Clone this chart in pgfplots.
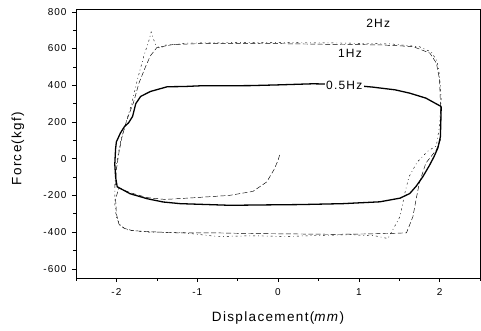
\documentclass[border=0pt]{standalone}
\usepackage{pgfplots}
\pgfplotsset{compat=1.18}
\usepackage{fontspec}
\setmainfont{Liberation Sans}[LetterSpace=10]
\begin{document}
\begin{tikzpicture}
\useasboundingbox (0,0) rectangle (481bp,331bp);
\begin{axis}[
  at={(76bp,53bp)}, anchor=south west,
  scale only axis, width=404bp, height=268bp,
  xmin=-2.5, xmax=2.5, ymin=-650, ymax=810,
  xtick={-2,-1,0,1,2},
  minor xtick={-2.5,-1.5,-0.5,0.5,1.5,2.5},
  ytick={-600,-400,-200,0,200,400,600,800},
  minor ytick={-500,-300,-100,100,300,500,700},
  tick align=outside, xtick pos=bottom, ytick pos=left,
  major tick length=4bp, minor tick length=2.5bp,
  axis line style={line width=1pt},
  every tick/.style={black, line width=0.6pt},
  /pgf/number format/assume math mode=true,
  ticklabel style={font=\fontsize{10bp}{12bp}\selectfont},
  xticklabel style={yshift=-3bp},
  yticklabel style={xshift=-2bp},
  xlabel={Displacement(\textit{mm})},
  ylabel={Force(kgf)},
  label style={font=\fontsize{13.5bp}{16bp}\selectfont},
  xlabel style={at={(axis description cs:0.5,-0.149)}, anchor=center},
  ylabel style={at={(axis description cs:-0.1436,0.483)}, anchor=center, rotate=0},
  clip=false,
]
% 2Hz
\addplot[black, line width=0.45pt, dash pattern=on 2pt off 3pt on 0.8pt off 3pt] coordinates {
(-2.02,-150) (-2.00,-30) (-1.95,90) (-1.88,200) (-1.81,300) (-1.74,430) (-1.66,560)
(-1.60,640) (-1.57,690) (-1.52,625) (-1.46,600) (-1.40,618) (-1.10,630) (-0.50,632)
(0.20,632) (0.80,630) (1.40,625) (1.75,610) (1.90,580) (1.97,530) (2.00,450)
(2.02,330) (2.00,180) (1.96,70) (1.85,40) (1.72,-20) (1.62,-100) (1.57,-187)
(1.51,-315) (1.43,-380) (1.36,-435) (1.20,-420) (0.90,-414) (0.50,-418) (0.10,-424)
(-0.30,-420) (-0.75,-424) (-1.20,-402) (-1.60,-400) (-1.85,-390) (-1.95,-368)
(-2.00,-320) (-2.02,-250) (-2.02,-150)
};
% 1Hz
\addplot[black, line width=0.45pt, dash pattern=on 5pt off 2.5pt] coordinates {
(0.02,20) (0.00,-10) (-0.05,-60) (-0.14,-127) (-0.31,-178) (-0.60,-200) (-1.05,-213)
(-1.40,-222) (-1.62,-212) (-1.83,-185) (-1.97,-160) (-2.01,-220) (-2.00,-300)
(-1.97,-355) (-1.90,-380) (-1.80,-392) (-1.58,-398) (-1.25,-404) (-0.80,-404)
(-0.30,-408) (0.20,-410) (0.70,-412) (1.10,-410) (1.40,-407) (1.59,-404) (1.63,-360)
(1.67,-315) (1.71,-220) (1.75,-131) (1.83,-24) (1.96,48) (2.01,102) (2.015,200)
(2.01,304) (2.00,430) (1.96,521) (1.88,575) (1.67,611) (1.26,620) (0.80,622)
(0.30,625) (-0.30,628) (-0.90,628) (-1.30,622) (-1.50,605) (-1.58,560) (-1.64,500)
(-1.72,413) (-1.79,304) (-1.87,212) (-1.93,120) (-1.97,30) (-2.00,-60) (-2.01,-150)
};
% 0.5Hz
\addplot[black, line width=1.3pt] coordinates {
(2.02,284) (2.015,200) (2.01,120) (1.98,60) (1.93,10) (1.87,-40) (1.79,-100)
(1.71,-150) (1.63,-190) (1.51,-215) (1.26,-235) (0.80,-245) (0.27,-250) (-0.20,-252)
(-0.59,-254) (-1.00,-248) (-1.21,-245) (-1.42,-236) (-1.62,-218) (-1.83,-191)
(-1.99,-153) (-2.01,-100) (-2.02,-30) (-2.01,54) (-2.00,92) (-1.95,140) (-1.90,175)
(-1.85,195) (-1.80,230) (-1.76,300) (-1.70,339) (-1.58,366) (-1.37,392) (-1.17,393)
(-0.96,397) (-0.35,398) (0.00,402) (0.43,408) (0.80,405) (1.17,390) (1.45,375)
(1.63,357) (1.83,330) (2.02,284)
};
\node[font=\fontsize{12bp}{14bp}\selectfont] at (axis cs:1.24,736) {2Hz};
\node[font=\fontsize{12bp}{14bp}\selectfont, fill=white, inner sep=1.5bp] at (axis cs:0.89,572) {1Hz};
\node[font=\fontsize{12bp}{14bp}\selectfont, fill=white, inner sep=1.5bp] at (axis cs:0.82,402) {0.5Hz};
\end{axis}
\end{tikzpicture}
\end{document}
